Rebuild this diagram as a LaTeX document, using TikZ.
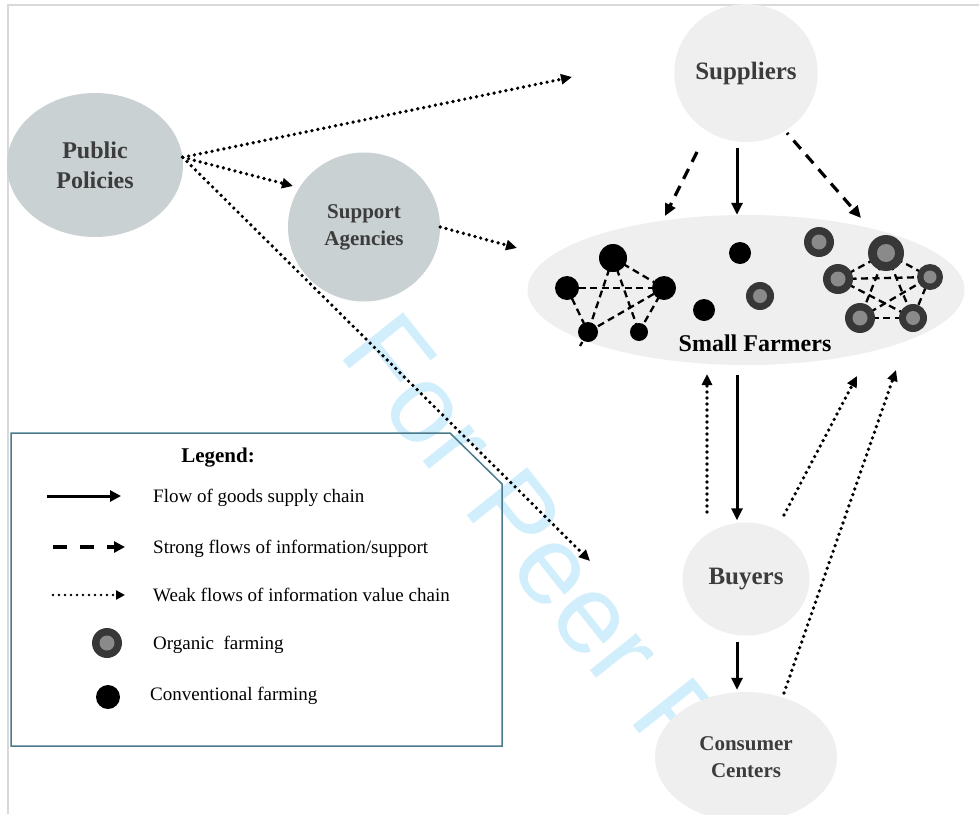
\documentclass[tikz,border=0pt]{standalone}
\usepackage{fontspec}
\setmainfont{Liberation Serif}
\newfontfamily\wmfont{Liberation Sans}
\usetikzlibrary{shapes.geometric,arrows.meta}
\definecolor{nodegray}{RGB}{201,209,211}
\definecolor{lightnode}{RGB}{239,239,239}
\definecolor{labelgray}{RGB}{60,60,60}
\definecolor{legendline}{RGB}{74,122,140}
\definecolor{framegray}{RGB}{217,217,217}
\definecolor{wmblue}{RGB}{208,238,251}
\definecolor{orgouter}{RGB}{55,55,55}
\definecolor{orginner}{RGB}{138,138,138}
\tikzset{
  bignode/.style={ellipse, inner sep=0pt, text=labelgray, align=center},
  flow/.style={line width=3pt, -{Triangle[length=12pt,width=11pt]}},
  strong/.style={line width=3.2pt, dash pattern=on 11pt off 8pt, -{Triangle[length=12pt,width=11pt]}},
  weak/.style={line width=3.7pt, line cap=round, dash pattern=on 0pt off 6pt, -{Triangle[length=11pt,width=10pt]}},
  link/.style={line width=2.3pt, dash pattern=on 7pt off 4.5pt},
  convdot/.style={circle, fill=black, inner sep=0pt},
  orgdot/.style={circle, fill=orgouter, inner sep=0pt},
  legtext/.style={anchor=base west, inner sep=0pt, font=\fontsize{19}{23}\selectfont}
}
\newcommand{\orgnode}[4]{%
  \node[orgdot, minimum size=#4*2pt] (#1) at (#2,#3) {};
  \fill[orginner] (#1.center) circle (#4*0.5pt);}
\newcommand{\convnode}[4]{%
  \node[convdot, minimum size=#4*2pt] (#1) at (#2,#3) {};}
\begin{document}
\begin{tikzpicture}[x=1pt,y=-1pt]
\useasboundingbox (0,0) rectangle (979,814);
\fill[white] (0,0) rectangle (979,814);
% watermark
\node[rotate=-51.5, anchor=base west, inner sep=0pt, text=wmblue,
      font=\wmfont\fontsize{112}{112}\selectfont] (wm) at (337,353) {For Peer R};
% frame
\draw[framegray, line width=2pt] (8,814) -- (8,5) -- (979,5);

% main nodes
\node[bignode, fill=nodegray, minimum width=176pt, minimum height=144pt,
      font=\bfseries\fontsize{24}{30}\selectfont] (pp) at (95,165) {Public\\Policies};
\node[bignode, fill=nodegray, minimum width=152pt, minimum height=149pt,
      font=\bfseries\fontsize{21}{27}\selectfont] (sa) at (364,227) {Support\\Agencies};
\node[bignode, fill=lightnode, minimum width=142pt, minimum height=138pt,
      font=\bfseries\fontsize{25}{30}\selectfont] (sup) at (746,73) {Suppliers};
\node[ellipse, fill=lightnode, minimum width=437pt, minimum height=150pt, inner sep=0pt] (sf) at (746,290) {};
\node[inner sep=0pt, font=\bfseries\fontsize{24}{29}\selectfont] (sftxt) at (755,343) {Small Farmers};
\node[bignode, fill=lightnode, minimum width=127pt, minimum height=113pt,
      font=\bfseries\fontsize{25}{30}\selectfont] (buy) at (746,579) {Buyers};
\node[bignode, fill=lightnode, minimum width=182pt, minimum height=130pt,
      font=\bfseries\fontsize{21}{27}\selectfont] (cc) at (746,757) {Consumer\\Centers};

% farmer dots: conventional network
\coordinate (c1) at (567,288);
\coordinate (c2) at (613,258);
\coordinate (c3) at (664,288);
\coordinate (c4) at (588,332);
\coordinate (c5) at (639,332);
\coordinate (ctail) at (580,346);
\draw[link] (c1) -- (c3);
\draw[link] (c2) -- (c3);
\draw[link] (c2) -- (c4);
\draw[link] (c2) -- (c5);
\draw[link] (c1) -- (c4);
\draw[link] (c4) -- (c3);
\draw[link] (c5) -- (c3);
\draw[link] (c4) -- (ctail);
\convnode{n1}{567}{288}{12}
\convnode{n2}{613}{258}{14}
\convnode{n3}{664}{288}{12}
\convnode{n4}{588}{332}{10}
\convnode{n5}{639}{332}{9}
\convnode{n6}{740}{253}{11}
\convnode{n7}{704}{310}{11}
% organic network
\coordinate (oB) at (886,253);
\coordinate (oC) at (838,279);
\coordinate (oD) at (930,277);
\coordinate (oE) at (860,318);
\coordinate (oF) at (913,318);
\draw[link] (oC) -- (oB);
\draw[link] (oB) -- (oD);
\draw[link] (oC) -- (oD);
\draw[link] (oB) -- (oE);
\draw[link] (oB) -- (oF);
\draw[link] (oC) -- (oF);
\draw[link] (oE) -- (oF);
\draw[link] (oD) -- (oF);
\draw[link] (oE) -- (oD);
\orgnode{m1}{760}{296}{14}
\orgnode{m2}{819}{242}{15}
\orgnode{m3}{886}{253}{18}
\orgnode{m4}{838}{279}{15}
\orgnode{m5}{930}{277}{13}
\orgnode{m6}{860}{318}{15}
\orgnode{m7}{913}{318}{14}

% legend box
\draw[legendline, line width=1.5pt] (11,433) -- (450,433) -- (502,484) -- (502,746) -- (11,746) -- cycle;
\node[anchor=base, inner sep=0pt, font=\bfseries\fontsize{21}{25}\selectfont] (lgt) at (218,462) {Legend:};
\coordinate (la1) at (47,496);
\coordinate (lb1) at (121,496);
\coordinate (la2) at (53,547);
\coordinate (lb2) at (125,547);
\coordinate (la3) at (53,595);
\coordinate (lb3) at (125,595);
\draw[line width=3pt, -{Triangle[length=11pt,width=11pt]}] (la1) -- (lb1);
\draw[line width=3.5pt, dash pattern=on 14pt off 13pt, -{Triangle[length=11pt,width=11pt]}] (la2) -- (lb2);
\draw[line width=2.8pt, line cap=round, dash pattern=on 0pt off 6pt, -{Triangle[length=9pt,width=9pt]}] (la3) -- (lb3);
\node[legtext] (lt1) at (153,502) {Flow of goods supply chain};
\node[legtext] (lt2) at (153,553) {Strong flows of information/support};
\node[legtext] (lt3) at (153,601) {Weak flows of information value chain};
\orgnode{lorg}{107}{643}{15}
\node[legtext] (lt4) at (153,649) {Organic\ \ farming};
\convnode{lconv}{108}{697}{12}
\node[legtext] (lt5) at (150,700) {Conventional farming};

% arrows from public policies
\coordinate (w1) at (572,77);
\coordinate (w2) at (293,186);
\coordinate (w3) at (590,561);
\draw[weak] (pp.5) -- (w1);
\draw[weak] (pp.5) -- (w2);
\draw[weak] (pp.5) -- (w3);
% support agencies to small farmers
\coordinate (w4) at (517,248);
\draw[weak] (sa.east) -- (w4);
% suppliers to small farmers
\draw[flow, shorten <=6pt] ([xshift=-9pt]sup.south) -- ([xshift=-9pt]sf.north);
\coordinate (s1) at (697,152);
\coordinate (s2) at (665,216);
\coordinate (s3) at (787,133);
\coordinate (s4) at (861,218);
\draw[strong] (s1) -- (s2);
\draw[strong, dash pattern=on 2pt off 8pt on 11pt off 8pt on 11pt off 8pt on 11pt off 8pt on 11pt off 8pt on 11pt off 8pt] (s3) -- (s4);
% small farmers to buyers to consumers
\draw[flow, shorten <=10pt, shorten >=2pt] ([xshift=-9pt]sf.south) -- ([xshift=-9pt]buy.north);
\draw[flow, shorten <=6pt, shorten >=2pt] ([xshift=-9pt]buy.south) -- ([xshift=-9pt]cc.north);
% weak feedback
\coordinate (b1) at (707,512);
\coordinate (b2) at (707,374);
\coordinate (b3) at (784,515);
\coordinate (b4) at (857,376);
\coordinate (b5) at (784,693);
\coordinate (b6) at (896,370);
\draw[weak] (b1) -- (b2);
\draw[weak] (b3) -- (b4);
\draw[weak] (b5) -- (b6);
\end{tikzpicture}
\end{document}
